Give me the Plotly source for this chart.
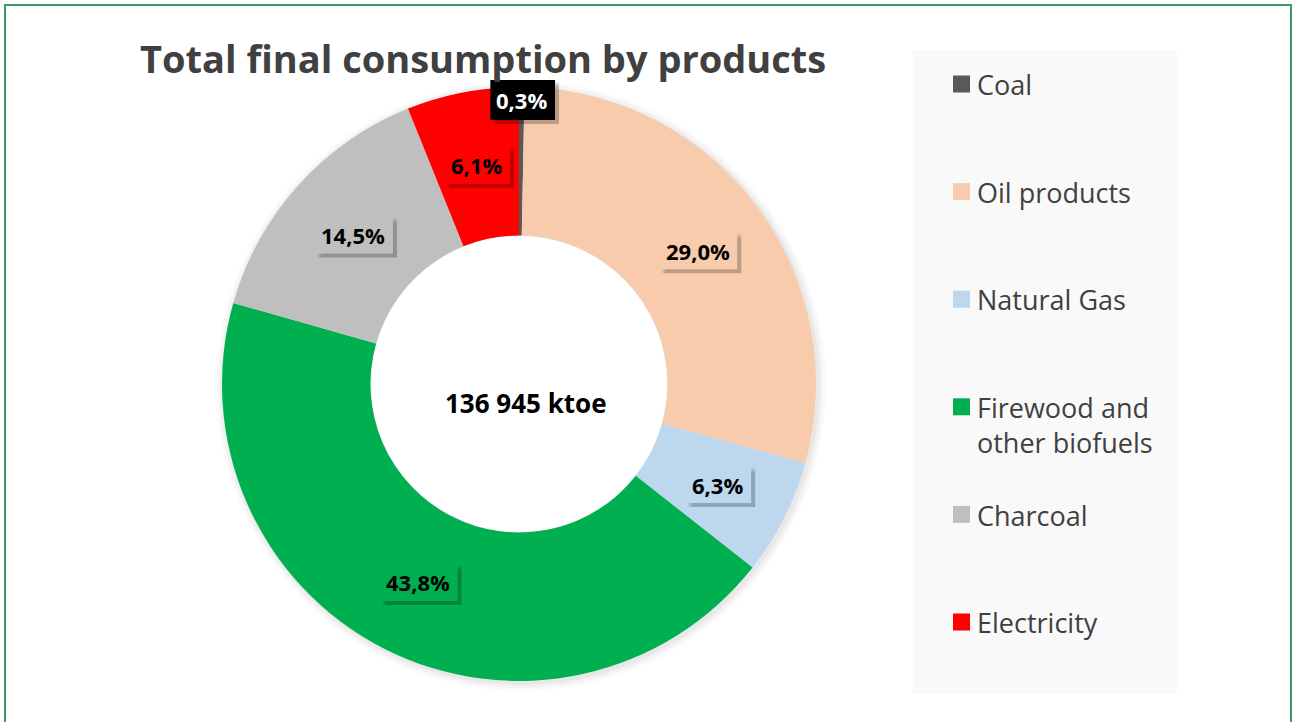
import math
import plotly.graph_objects as go

# ---------------- data ----------------
categories = ["Coal", "Oil products", "Natural Gas", "Firewood and other biofuels", "Charcoal", "Electricity"]
legend_labels = ["Coal", "Oil products", "Natural Gas", "Firewood and<br>other biofuels", "Charcoal", "Electricity"]
shares = [0.3, 29.0, 6.3, 43.8, 14.5, 6.1]
label_texts = ["0,3%", "29,0%", "6,3%", "43,8%", "14,5%", "6,1%"]
total_label = "136 945 ktoe"
title_text = "Total final consumption by products"

# ---------------- styles ----------------
colors = ["#595959", "#F8CBAD", "#BDD7EE", "#00B050", "#BFBFBF", "#FF0000"]
FONT = "Open Sans"
TEXT_GREY = "#404040"
LABEL_FS = 22

W, H = 1292, 722
cx, cy, R = 519, 384, 297
HOLE = 0.5


def px(x):
    return x / W


def py(y):
    return 1 - y / H


def label_width(s, fs):
    em = {",": 0.28, "%": 0.88}
    return sum(em.get(ch, 0.572) for ch in s) * fs


fig = go.Figure()
fig.add_trace(go.Pie(
    labels=categories,
    values=shares,
    sort=False,
    direction="clockwise",
    rotation=0,
    hole=HOLE,
    marker=dict(colors=colors, line=dict(width=0)),
    textinfo="none",
    hoverinfo="label+percent",
    showlegend=False,
    domain=dict(x=[px(cx - R), px(cx + R)], y=[py(cy + R), py(cy - R)]),
))

shapes = []
annotations = []

# outer green frame
shapes.append(dict(type="rect", xref="paper", yref="paper",
                   x0=px(5), x1=px(1291), y0=py(730), y1=py(5),
                   line=dict(color="#3A9A62", width=2), fillcolor="rgba(0,0,0,0)", layer="above"))

# faint glow behind the donut
for d, a in [(8, 0.02), (5, 0.03), (2, 0.04)]:
    shapes.append(dict(type="circle", xref="paper", yref="paper",
                       x0=px(cx - R - d + 2), x1=px(cx + R + d + 2),
                       y0=py(cy + R + d + 2), y1=py(cy - R - d + 2),
                       fillcolor=f"rgba(0,0,0,{a})", line=dict(width=0), layer="below"))
# keep the hole white
rh = R * HOLE
shapes.append(dict(type="circle", xref="paper", yref="paper",
                   x0=px(cx - rh + 0.5), x1=px(cx + rh - 0.5),
                   y0=py(cy + rh - 0.5), y1=py(cy - rh + 0.5),
                   fillcolor="#FFFFFF", line=dict(width=0), layer="above"))

# legend panel
shapes.append(dict(type="rect", xref="paper", yref="paper",
                   x0=px(913), x1=px(1177), y0=py(694), y1=py(50),
                   fillcolor="#F9F9F9", line=dict(width=0), layer="below"))

# title
annotations.append(dict(text=f"<b>{title_text}</b>", xref="paper", yref="paper",
                        x=px(483), y=py(58), xanchor="center", yanchor="middle",
                        showarrow=False, font=dict(family=FONT, size=38, color=TEXT_GREY)))

# centre total
annotations.append(dict(text=f"<b>{total_label}</b>", xref="paper", yref="paper",
                        x=px(526), y=py(403), xanchor="center", yanchor="middle",
                        showarrow=False, font=dict(family=FONT, size=26, color="#000000")))

# data labels, positioned from the cumulative shares
total = sum(shares)
cum = 0.0
for val, txt, col in zip(shares, label_texts, colors):
    frac_mid = (cum + val / 2) / total
    cum += val
    theta = 2 * math.pi * frac_mid
    small = val / total < 0.01
    r = R - 13 if small else (R + R * HOLE) / 2
    lx = cx + r * math.sin(theta)
    ly = cy - r * math.cos(theta)
    bg = "#000000" if small else col
    fc = "#FFFFFF" if small else "#000000"
    bw = label_width(txt, LABEL_FS) + 14
    bh = 37 if not small else 40
    x0, x1 = lx - bw / 2 + 1, lx + bw / 2 + 1
    y0, y1 = ly - bh / 2, ly + bh / 2
    # soft shadow (bottom-right)
    for off, grow, a in [(5, -1, 0.07), (4, 0, 0.09), (3, 1, 0.09)]:
        shapes.append(dict(type="rect", xref="paper", yref="paper",
                           x0=px(x0 + off - grow), x1=px(x1 + off + grow),
                           y0=py(y1 + off + grow), y1=py(y0 + off - grow),
                           fillcolor=f"rgba(0,0,0,{a})", line=dict(width=0), layer="above"))
    shapes.append(dict(type="rect", xref="paper", yref="paper",
                       x0=px(x0), x1=px(x1), y0=py(y1), y1=py(y0),
                       fillcolor=bg, line=dict(width=0), layer="above"))
    annotations.append(dict(text=f"<b>{txt}</b>", xref="paper", yref="paper",
                            x=px(lx), y=py(ly), xanchor="center", yanchor="middle",
                            showarrow=False, borderpad=0,
                            font=dict(family=FONT, size=LABEL_FS, color=fc)))

# legend entries
LEG_TOP = 84
LEG_STEP = 107.6
LEG_FS = 27
for i, (lab, col) in enumerate(zip(legend_labels, colors)):
    yc = LEG_TOP + i * LEG_STEP
    shapes.append(dict(type="rect", xref="paper", yref="paper",
                       x0=px(953), x1=px(970), y0=py(yc + 8.5), y1=py(yc - 8.5),
                       fillcolor=col, line=dict(width=0)))
    annotations.append(dict(text=lab, xref="paper", yref="paper",
                            x=px(976), y=py(yc - LEG_FS * 0.7), xanchor="left", yanchor="top",
                            align="left", showarrow=False, borderpad=0,
                            font=dict(family=FONT, size=LEG_FS, color=TEXT_GREY)))

fig.update_layout(
    width=W, height=H,
    margin=dict(l=0, r=0, t=0, b=0),
    paper_bgcolor="#FFFFFF",
    plot_bgcolor="#FFFFFF",
    shapes=shapes,
    annotations=annotations,
    showlegend=False,
)

fig.write_html("out.html", config={"displayModeBar": False},
               post_script="document.body.style.margin='0';document.body.style.overflow='hidden';")
